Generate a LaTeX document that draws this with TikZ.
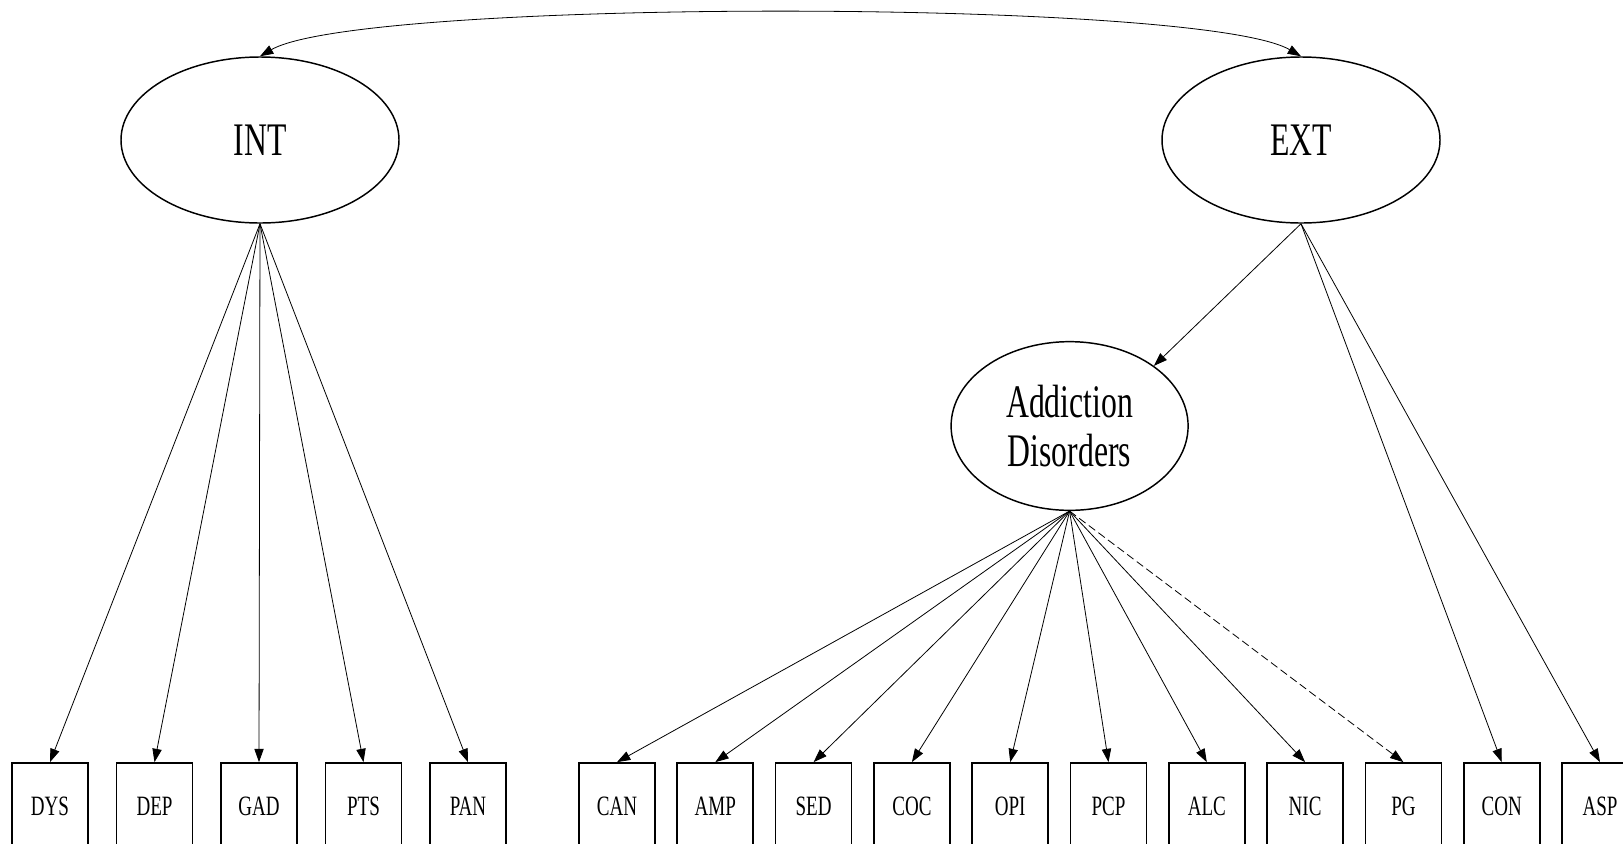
\documentclass[tikz,border=0pt]{standalone}
\usepackage{fontspec}
\newfontfamily\semfont{Liberation Serif}[FakeStretch=0.68]
\usetikzlibrary{shapes.geometric,arrows.meta}
\tikzset{every picture/.style={line width=0.75pt}}

\begin{document}
\begin{tikzpicture}[x=0.75pt,y=0.75pt,yscale=-1,xscale=1,
  latent/.style={draw,ellipse,line width=1.1pt,inner sep=0pt,align=center,font=\semfont\fontsize{35}{37}\selectfont},
  indicator/.style={draw,rectangle,line width=1.3pt,minimum width=57pt,minimum height=64.5pt,inner sep=0pt,font=\semfont\fontsize{21}{24}\selectfont},
  load/.style={line width=0.6pt,-{Triangle[length=10pt,width=7pt]}},
  cov/.style={line width=0.6pt,{Triangle[length=10pt,width=7pt]}-{Triangle[length=10pt,width=7pt]}}]
\useasboundingbox (0,0) rectangle (1623,843);

%Shape: Ellipse [INT]
\node [latent,minimum width=208.5pt,minimum height=124.5pt] (INT) at (260,140) {INT};
%Shape: Ellipse [EXT]
\node [latent,minimum width=208.5pt,minimum height=124.5pt] (EXT) at (1301,140) {EXT};
%Shape: Ellipse [Addiction]
\node [latent,minimum width=177.75pt,minimum height=126.5pt] (ADD) at (1069.6,426) {Addiction\\Disorders};

% Text Node
\node [indicator] (DYS) at (50,806) {DYS};
% Text Node
\node [indicator] (DEP) at (154.5,806) {DEP};
% Text Node
\node [indicator] (GAD) at (259,806) {GAD};
% Text Node
\node [indicator] (PTS) at (363.5,806) {PTS};
% Text Node
\node [indicator] (PAN) at (468,806) {PAN};

% Text Node
\node [indicator] (CAN) at (617,806) {CAN};
% Text Node
\node [indicator] (AMP) at (715.3,806) {AMP};
% Text Node
\node [indicator] (SED) at (813.6,806) {SED};
% Text Node
\node [indicator] (COC) at (911.9,806) {COC};
% Text Node
\node [indicator] (OPI) at (1010.2,806) {OPI};
% Text Node
\node [indicator] (PCP) at (1108.5,806) {PCP};
% Text Node
\node [indicator] (ALC) at (1206.8,806) {ALC};
% Text Node
\node [indicator] (NIC) at (1305.1,806) {NIC};
% Text Node
\node [indicator] (PG) at (1403.4,806) {PG};
% Text Node
\node [indicator] (CON) at (1501.7,806) {CON};
% Text Node
\node [indicator] (ASP) at (1600,806) {ASP};

%Curve Lines [INT <-> EXT]
\draw [cov] (INT.north) .. controls +(100,-58) and +(-100,-58) .. (EXT.north);

%Straight Lines [INT loadings]
\draw [load] (INT.south) -- (DYS.north);
\draw [load] (INT.south) -- (DEP.north);
\draw [load] (INT.south) -- (GAD.north);
\draw [load] (INT.south) -- (PTS.north);
\draw [load] (INT.south) -- (PAN.north);

%Straight Lines [EXT loadings]
\draw [load] (EXT.south) -- (ADD.north east);
\draw [load] (EXT.south) -- (CON.north);
\draw [load] (EXT.south) -- (ASP.north);

%Straight Lines [Addiction loadings]
\draw [load] (ADD.south) -- (CAN.north);
\draw [load] (ADD.south) -- (AMP.north);
\draw [load] (ADD.south) -- (SED.north);
\draw [load] (ADD.south) -- (COC.north);
\draw [load] (ADD.south) -- (OPI.north);
\draw [load] (ADD.south) -- (PCP.north);
\draw [load] (ADD.south) -- (ALC.north);
\draw [load] (ADD.south) -- (NIC.north);
\draw [load,dash pattern=on 6pt off 3pt] (ADD.south) -- (PG.north);

\end{tikzpicture}
\end{document}
